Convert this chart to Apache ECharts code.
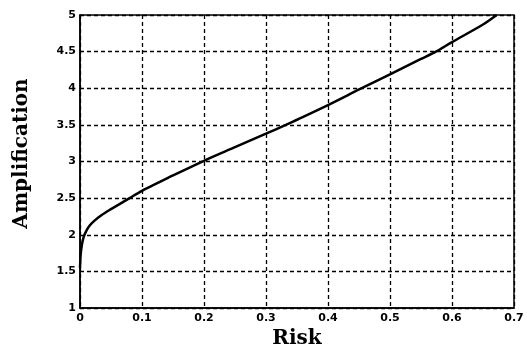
<!DOCTYPE html>
<html>
<head>
<meta charset="utf-8">
<script src="https://cdn.jsdelivr.net/npm/echarts@6/dist/echarts.min.js"></script>
<style>
html,body{margin:0;padding:0;background:#fff;}
#chart{width:527px;height:357px;}
</style>
</head>
<body>
<div id="chart"></div>
<script>
const riskValues = [0, 0.001, 0.003, 0.006, 0.01, 0.015, 0.023, 0.035, 0.05, 0.065, 0.08, 0.1, 0.126, 0.15, 0.2, 0.25, 0.3, 0.332, 0.35, 0.4, 0.452, 0.5, 0.55, 0.574, 0.6, 0.65, 0.672];
const amplificationValues = [1.55, 1.72, 1.86, 1.97, 2.05, 2.12, 2.19, 2.27, 2.35, 2.425, 2.5, 2.6, 2.71, 2.81, 3.01, 3.195, 3.38, 3.5, 3.57, 3.77, 3.99, 4.19, 4.4, 4.5, 4.63, 4.87, 5.0];
const xTickLabels = ['0', '0.1', '0.2', '0.3', '0.4', '0.5', '0.6', '0.7'];
const yTickLabels = ['1', '1.5', '2', '2.5', '3', '3.5', '4', '4.5', '5'];
const xAxisTitle = 'Risk';
const yAxisTitle = 'Amplification';

const seriesData = riskValues.map((r, i) => [r, amplificationValues[i]]);
const chart = echarts.init(document.getElementById('chart'), null, {renderer: 'canvas'});
const tickFont = {fontFamily: 'DejaVu Sans', fontWeight: 'bold', fontSize: 11, color: '#000'};
const titleFont = {fontFamily: 'DejaVu Serif', fontWeight: 'bold', fontSize: 20, color: '#000'};
chart.setOption({
  animation: false,
  backgroundColor: '#fff',
  grid: {left: 80, right: 13, top: 15, bottom: 49, show: true, borderColor: '#000', borderWidth: 1.5, backgroundColor: 'transparent'},
  xAxis: {
    type: 'value', min: 0, max: 0.7, interval: 0.1,
    name: xAxisTitle, nameLocation: 'middle', nameGap: 21, nameTextStyle: titleFont,
    axisLine: {show: true, lineStyle: {color: '#000', width: 1.5}},
    axisTick: {show: false},
    axisLabel: Object.assign({margin: 5, formatter: (v) => xTickLabels[Math.round(v * 10)]}, tickFont),
    splitLine: {show: true, lineStyle: {color: '#000', width: 1.3, type: [4, 3]}}
  },
  yAxis: {
    type: 'value', min: 1, max: 5, interval: 0.5,
    name: yAxisTitle, nameLocation: 'middle', nameGap: 48, nameRotate: 90,
    nameTextStyle: Object.assign({padding: [0, 0, 0, 16]}, titleFont),
    axisLine: {show: true, lineStyle: {color: '#000', width: 1.5}},
    axisTick: {show: false},
    axisLabel: Object.assign({margin: 4, formatter: (v) => yTickLabels[Math.round((v - 1) * 2)]}, tickFont),
    splitLine: {show: true, lineStyle: {color: '#000', width: 1.3, type: [4, 3]}}
  },
  series: [{
    type: 'line', data: seriesData, showSymbol: false, smooth: 0.3,
    lineStyle: {color: '#000', width: 2.5}
  }]
});
</script>
</body>
</html>
